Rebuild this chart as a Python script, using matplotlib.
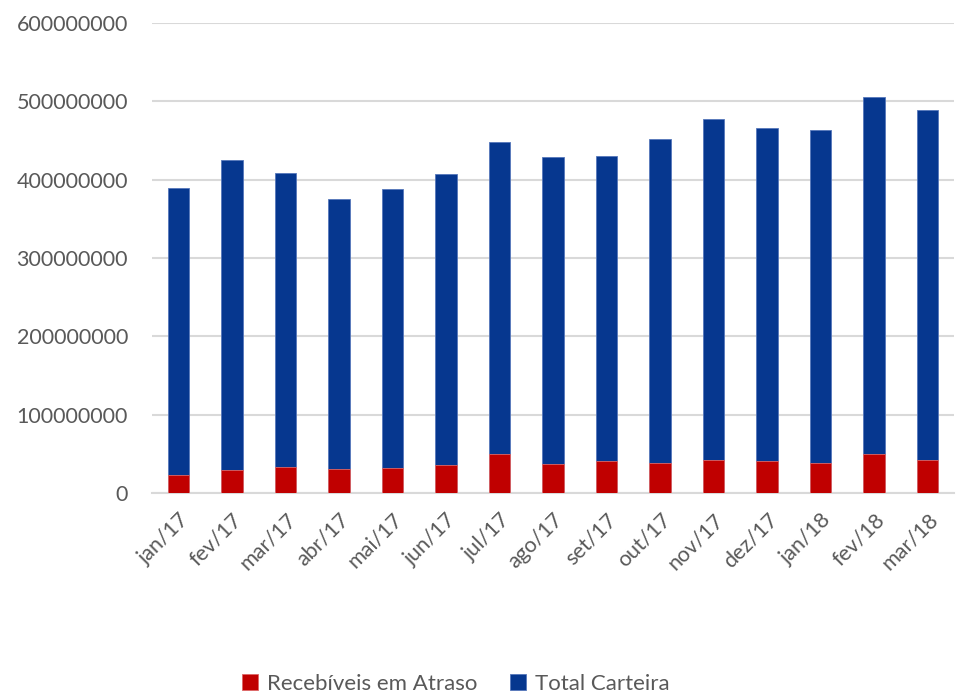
import matplotlib
matplotlib.use("Agg")
import matplotlib.pyplot as plt
import numpy as np

months = ["jan/17", "fev/17", "mar/17", "abr/17", "mai/17", "jun/17", "jul/17",
          "ago/17", "set/17", "out/17", "nov/17", "dez/17", "jan/18", "fev/18", "mar/18"]

# portfolio total (bar height) and overdue receivables, in R$
total_carteira = [389e6, 424.5e6, 408e6, 375e6, 388e6, 407.5e6, 447.5e6,
                  429e6, 430.5e6, 452e6, 477e6, 465.5e6, 464e6, 506e6, 488.5e6]
recebiveis_atraso = [22.5e6, 29.5e6, 33.5e6, 31e6, 32e6, 35e6, 49e6,
                     36.5e6, 41e6, 37.5e6, 42.5e6, 40.5e6, 38.5e6, 49e6, 42.5e6]

blue = "#06378F"
red = "#C00000"
grey_text = "#595959"

plt.rcParams["font.family"] = ["Lato", "DejaVu Sans"]

fig = plt.figure(figsize=(9.66, 6.99), dpi=100)
ax = fig.add_axes([0.157, 0.295, 0.831, 0.672])

x = np.arange(len(months))
width = 0.4

ax.bar(x, total_carteira, width, color=blue, edgecolor="#5577bb", linewidth=0.6,
       label="Total Carteira", zorder=2)
ax.bar(x, recebiveis_atraso, width, color=red, edgecolor="#dd6666", linewidth=0.6,
       label="Recebíveis em Atraso", zorder=3)

ax.set_xlim(-0.5, len(months) - 0.5)
ax.set_ylim(0, 600e6)
ax.set_yticks(np.arange(0, 600e6 + 1, 100e6))
ax.set_yticklabels([f"{int(v)}" for v in np.arange(0, 600e6 + 1, 100e6)])

ax.yaxis.grid(True, color="#d9d9d9", linewidth=1.5, zorder=0)
ax.set_axisbelow(True)
for s in ["top", "right", "left"]:
    ax.spines[s].set_visible(False)
ax.spines["bottom"].set_color("#d9d9d9")
ax.spines["bottom"].set_linewidth(1.5)

ax.tick_params(axis="both", length=0, labelsize=15.5, colors=grey_text)
ax.tick_params(axis="y", pad=17)
ax.set_xticks(x)
ax.set_xticklabels(months, rotation=45, ha="right", rotation_mode="anchor")
ax.tick_params(axis="x", pad=12)

handles, labels = ax.get_legend_handles_labels()
leg = fig.legend(handles[::-1], labels[::-1], loc="center", bbox_to_anchor=(0.472, 0.022),
                 ncol=2, frameon=False, fontsize=16, handlelength=0.7, handleheight=0.7,
                 handletextpad=0.4, columnspacing=1.5)
for t in leg.get_texts():
    t.set_color(grey_text)

fig.savefig("out.png", dpi=100)
